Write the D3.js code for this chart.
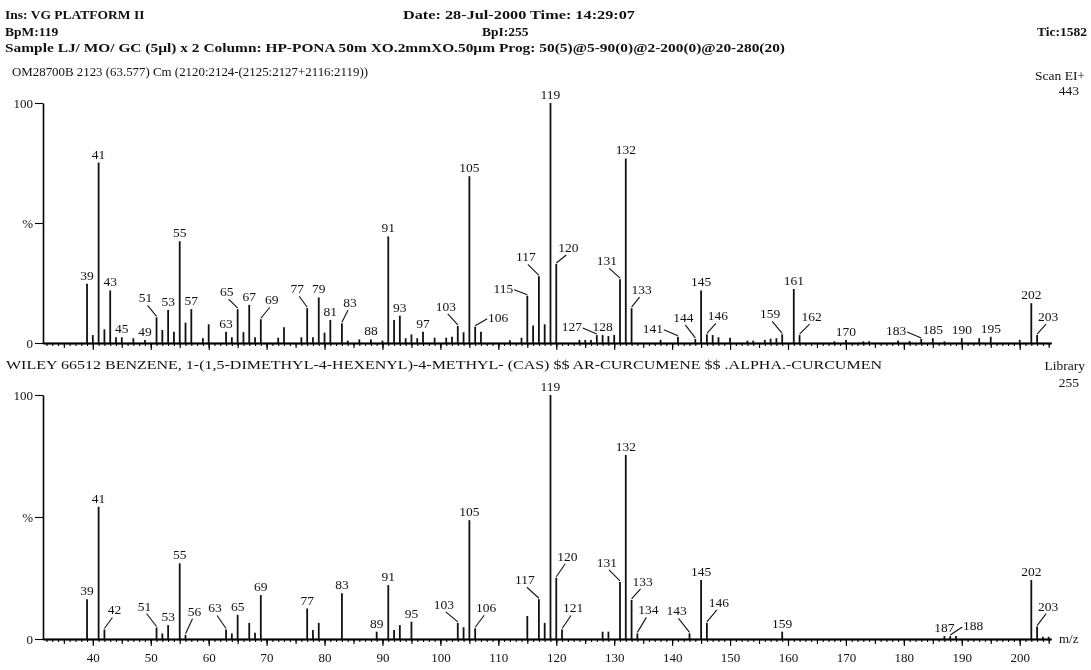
<!DOCTYPE html>
<html>
<head>
<meta charset="utf-8">
<script src="https://cdn.jsdelivr.net/npm/d3@7"></script>
<style>
  body { margin: 0; background: #fff; }
  svg { display: block; will-change: transform; }
  text { font-family: "Liberation Serif", "Times New Roman", serif; fill: #111; }
</style>
</head>
<body>
<svg id="chart" width="1091" height="670"></svg>
<script>
// Acquired scan 2123: m/z and relative intensity (% of base peak 119)
const scanMz = [39, 40, 41, 42, 43, 44, 45, 47, 49, 51, 52, 53, 54, 55, 56, 57, 59, 60, 63, 64, 65, 66, 67, 68, 69, 72, 73, 76, 77, 78, 79, 80, 81, 83, 84, 86, 88, 90, 91, 92, 93, 94, 95, 96, 97, 99, 101, 102, 103, 104, 105, 106, 107, 112, 114, 115, 116, 117, 118, 119, 120, 124, 125, 126, 127, 128, 129, 130, 131, 132, 133, 138, 141, 144, 145, 146, 147, 148, 150, 153, 154, 156, 157, 158, 159, 161, 162, 168, 170, 173, 174, 179, 181, 183, 185, 187, 190, 193, 195, 200, 202, 203];
const scanPct = [24.7, 3.3, 75.2, 5.7, 21.9, 2.4, 2.4, 2.0, 1.3, 10.7, 5.4, 13.8, 4.7, 42.4, 8.5, 14.1, 2.0, 7.8, 4.7, 2.4, 14.1, 4.5, 15.9, 2.4, 9.9, 2.2, 6.6, 2.4, 14.5, 2.4, 19.0, 4.3, 9.6, 8.2, 1.0, 1.5, 1.5, 1.0, 44.4, 9.6, 11.4, 2.0, 3.6, 2.0, 4.7, 2.2, 2.2, 2.6, 7.1, 4.5, 69.5, 6.8, 4.7, 1.1, 2.2, 19.7, 7.3, 27.8, 7.8, 100, 32.9, 1.3, 1.3, 1.3, 3.3, 3.3, 2.9, 3.3, 26.6, 76.9, 14.5, 1.3, 2.6, 1.7, 21.9, 3.6, 3.3, 2.4, 2.2, 1.0, 1.0, 1.3, 1.8, 2.0, 3.6, 22.5, 3.3, 0.7, 1.3, 0.7, 0.7, 1.0, 0.8, 1.7, 2.0, 0.7, 2.0, 2.0, 2.6, 1.3, 16.6, 3.3];
const scanLabels = [39, 41, 43, 45, 49, 51, 53, 55, 57, 63, 65, 67, 69, 77, 79, 81, 83, 88, 91, 93, 97, 103, 105, 106, 115, 117, 119, 120, 127, 128, 131, 132, 133, 141, 144, 145, 146, 159, 161, 162, 170, 183, 185, 190, 195, 202, 203];

// Library spectrum: ar-curcumene (WILEY 66512)
const libMz = [39, 41, 42, 51, 52, 53, 55, 56, 63, 64, 65, 67, 68, 69, 77, 78, 79, 83, 89, 91, 92, 93, 95, 103, 104, 105, 106, 115, 117, 118, 119, 120, 121, 128, 129, 131, 132, 133, 134, 143, 145, 146, 159, 187, 188, 189, 202, 203, 204, 205];
const libPct = [16.3, 54.2, 3.9, 4.7, 2.3, 5.7, 31.0, 1.7, 3.9, 2.3, 9.9, 6.6, 2.6, 18.0, 12.5, 3.7, 6.6, 18.8, 3.0, 22.1, 3.7, 5.7, 7.1, 6.6, 4.8, 48.7, 4.4, 9.4, 16.3, 6.6, 100, 25.1, 3.9, 3.0, 3.0, 23.4, 75.4, 16.0, 2.3, 2.3, 24.2, 6.6, 3.0, 1.2, 1.2, 1.2, 24.2, 5.1, 0.9, 0.9];
const libLabels = [39, 41, 42, 51, 53, 55, 56, 63, 65, 69, 77, 83, 89, 91, 95, 103, 105, 106, 117, 119, 120, 121, 131, 132, 133, 134, 143, 145, 146, 159, 187, 188, 202, 203];

const mzTickLabels = d3.range(40, 201, 10);
const pctTickLabels = [[0, "0"], [50, "%"], [100, "100"]];

// Peak labels moved aside of their peak and joined to it by a leader: [dx, rise] in px
const scanLeaders = {51: [-11, 15], 65: [-11, 13], 69: [11, 15], 77: [-10, 15], 83: [8, 16], 103: [-12, 15], 106: [23, 5], 115: [-24, 3], 117: [-13, 15], 120: [12, 12], 127: [-25, 4], 131: [-13, 14], 133: [10, 14], 141: [-25, 4], 144: [-12, 17], 146: [11, 14], 159: [-12, 16], 162: [12, 14], 183: [-25, 4], 203: [11, 14]};
const libLeaders = {42: [10, 15], 51: [-12, 17], 56: [9, 19], 63: [-11, 17], 103: [-14, 14], 106: [11, 16], 117: [-14, 15], 120: [11, 17], 121: [11, 17], 131: [-13, 15], 133: [11, 14], 134: [11, 19], 143: [-13, 18], 146: [12, 16], 188: [23, 6], 203: [11, 16]};

const svg = d3.select("#chart");
svg.append("rect").attr("width", 1091).attr("height", 670).attr("fill", "#fff");

const x = d3.scaleLinear().domain([31.4, 205.4]).range([43, 1051]);
const LABEL_SIZE = 13.5;

// ----- header text -----
function txt(s, px, py, opts = {}) {
  const t = svg.append("text").attr("x", px).attr("y", py).text(s)
    .attr("font-size", opts.size || 13.5)
    .attr("font-weight", opts.bold ? "bold" : "normal")
    .attr("text-anchor", opts.anchor || "start");
  if (opts.len) t.attr("textLength", opts.len).attr("lengthAdjust", "spacingAndGlyphs");
  return t;
}
txt("Ins: VG PLATFORM II", 5, 19, {bold: true});
txt("Date: 28-Jul-2000 Time: 14:29:07", 403, 19, {bold: true, len: 232});
txt("BpM:119", 5, 36, {bold: true});
txt("BpI:255", 482, 36, {bold: true});
txt("Tic:1582", 1087, 36, {bold: true, anchor: "end"});
txt("Sample LJ/ MO/ GC (5\u00b5l) x 2 Column: HP-PONA 50m XO.2mmXO.50\u00b5m Prog: 50(5)@5-90(0)@2-200(0)@20-280(20)", 5, 52, {bold: true, len: 780});
txt("OM28700B 2123 (63.577) Cm (2120:2124-(2125:2127+2116:2119))", 12, 76, {len: 356});
txt("Scan EI+", 1085, 80, {anchor: "end"});
txt("443", 1079, 95, {anchor: "end"});
txt("WILEY 66512 BENZENE, 1-(1,5-DIMETHYL-4-HEXENYL)-4-METHYL- (CAS) $$ AR-CURCUMENE $$ .ALPHA.-CURCUMEN", 6, 369, {len: 876});
txt("Library", 1085, 370, {anchor: "end"});
txt("255", 1079, 387, {anchor: "end"});

// ----- spectra -----
const panels = [
  {mz: scanMz, pct: scanPct, labels: scanLabels, leaders: scanLeaders, y: d3.scaleLinear().domain([0, 100]).range([343, 103]), axisLabels: false},
  {mz: libMz, pct: libPct, labels: libLabels, leaders: libLeaders, y: d3.scaleLinear().domain([0, 100]).range([639, 395]), axisLabels: true}
];

panels.forEach(p => {
  const g = svg.append("g");
  const y = p.y;
  const y0 = y(0);

  // y axis: minor ticks every 10 %, longer ones at 0 / % / 100
  const yMinor = d3.axisLeft(y).tickValues(d3.range(0, 101, 10)).tickSize(4).tickSizeOuter(0).tickFormat("");
  const yMajor = d3.axisLeft(y).tickValues(pctTickLabels.map(d => d[0])).tickSize(8).tickSizeOuter(0).tickPadding(2)
    .tickFormat(v => pctTickLabels.find(d => d[0] === v)[1]);
  const ya = g.append("g").attr("transform", `translate(${x.range()[0]},0)`);
  ya.call(yMinor);
  ya.call(yMajor);
  ya.selectAll(".domain").attr("stroke-width", 1.6);
  ya.selectAll("text").attr("font-size", 13).attr("font-family", "Liberation Serif, serif").attr("fill", "#111");
  ya.selectAll("line").attr("stroke-width", 1.1);

  // x axis: unit ticks, longer every 5 and 10
  const xa = g.append("g").attr("transform", `translate(0,${y0})`);
  const [d0, d1] = x.domain();
  const units = d3.range(Math.ceil(d0), Math.floor(d1) + 1);
  xa.append("g").call(d3.axisBottom(x).tickValues(units).tickSize(3).tickSizeOuter(0).tickFormat(""));
  xa.append("g").call(d3.axisBottom(x).tickValues(units.filter(v => v % 5 === 0)).tickSize(5).tickSizeOuter(0).tickFormat(""));
  const xMajor = d3.axisBottom(x).tickValues(mzTickLabels).tickSize(7).tickSizeOuter(0).tickPadding(7)
    .tickFormat(p.axisLabels ? d3.format("d") : "");
  xa.append("g").call(xMajor);
  xa.selectAll(".domain").attr("stroke-width", 1.6);
  xa.selectAll("line").attr("stroke-width", 1.1);
  xa.selectAll("text").attr("font-size", 13).attr("font-family", "Liberation Serif, serif").attr("fill", "#111");
  if (p.axisLabels) {
    g.append("text").attr("x", x.range()[1] + 8).attr("y", y0 + 4).attr("font-size", 13).text("m/z");
  }

  // peaks
  const peaks = p.mz.map((m, i) => ({m, v: p.pct[i]}));
  g.append("g").selectAll("line").data(peaks).join("line")
    .attr("x1", d => x(d.m)).attr("x2", d => x(d.m))
    .attr("y1", y0).attr("y2", d => y(d.v))
    .attr("stroke", "#111").attr("stroke-width", 1.8);

  // peak labels
  const lg = g.append("g");
  p.labels.forEach(m => {
    const v = p.pct[p.mz.indexOf(m)];
    const xb = x(m), yt = y(v);
    const off = p.leaders[m];
    if (!off) {
      lg.append("text").attr("x", xb).attr("y", yt - 4).attr("text-anchor", "middle")
        .attr("font-size", LABEL_SIZE).text(m);
      return;
    }
    const [dx, rise] = off;
    const xl = xb + dx, base = yt - rise;
    lg.append("text").attr("x", xl).attr("y", base).attr("text-anchor", "middle")
      .attr("font-size", LABEL_SIZE).text(m);
    const s = Math.sign(dx);
    const half = String(m).length * 3.3;
    const start = rise >= 10 ? [xl - s * 2, base + 3] : [xl - s * (half + 1), base - 3];
    lg.append("line").attr("x1", start[0]).attr("y1", start[1])
      .attr("x2", xb).attr("y2", yt - 1)
      .attr("stroke", "#111").attr("stroke-width", 1.1);
  });
});
</script>
</body>
</html>
